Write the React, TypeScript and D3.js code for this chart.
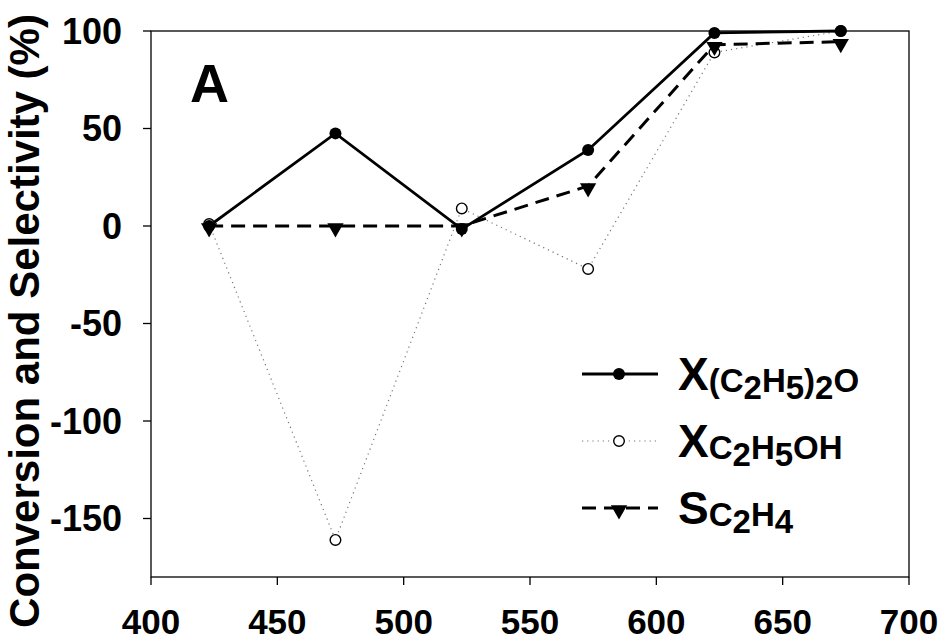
import React from "react";
import * as d3 from "d3";

const temps = [423, 473, 523, 573, 623, 673];
const xEther = [0, 47.5, -1.6, 39, 99, 100];
const xEthanol = [1, -161, 9, -22, 89, 100];
const sEthylene = [0, 0, 0, 20.5, 93, 94.5];
const xTicks = [400, 450, 500, 550, 600, 650, 700];
const yTicks = [-150, -100, -50, 0, 50, 100];

const W = 945, H = 643;
const M = { left: 151, right: 909, top: 31, bottom: 577 };
const FONT = "'Liberation Sans', Arial, sans-serif";

export default function App() {
  const x = d3.scaleLinear().domain([400, 700]).range([M.left, M.right]);
  const y = d3.scaleLinear().domain([-180, 100]).range([M.bottom, M.top]);
  const mk = (vals: number[]) =>
    d3.line<number>().x((_, i) => x(temps[i])).y((v) => y(v))(vals) || "";
  const tri = d3.symbol().type(d3.symbolTriangle).size(115)();

  const legendRows = [
    { yy: 374, kind: "ether" },
    { yy: 441, kind: "ethanol" },
    { yy: 508, kind: "ethylene" },
  ];

  const SUB = 33;
  const subLabel = (kind: string) => {
    if (kind === "ether")
      return (
        <>
          <tspan fontSize={46}>X</tspan>
          <tspan fontSize={SUB} dy={2}>(C</tspan>
          <tspan fontSize={SUB} dy={7}>2</tspan>
          <tspan fontSize={SUB} dy={-7}>H</tspan>
          <tspan fontSize={SUB} dy={7}>5</tspan>
          <tspan fontSize={SUB} dy={-7}>)</tspan>
          <tspan fontSize={SUB} dy={7}>2</tspan>
          <tspan fontSize={SUB} dy={-7}>O</tspan>
        </>
      );
    if (kind === "ethanol")
      return (
        <>
          <tspan fontSize={46}>X</tspan>
          <tspan fontSize={SUB} dy={2}>C</tspan>
          <tspan fontSize={SUB} dy={7}>2</tspan>
          <tspan fontSize={SUB} dy={-7}>H</tspan>
          <tspan fontSize={SUB} dy={7}>5</tspan>
          <tspan fontSize={SUB} dy={-7}>OH</tspan>
        </>
      );
    return (
      <>
        <tspan fontSize={46}>S</tspan>
        <tspan fontSize={SUB} dy={2}>C</tspan>
        <tspan fontSize={SUB} dy={7}>2</tspan>
        <tspan fontSize={SUB} dy={-7}>H</tspan>
        <tspan fontSize={SUB} dy={7}>4</tspan>
      </>
    );
  };

  const marker = (kind: string, cx: number, cy: number, key?: any) => {
    if (kind === "ether")
      return <circle key={key} cx={cx} cy={cy} r={6} fill="#000" />;
    if (kind === "ethanol")
      return (
        <circle key={key} cx={cx} cy={cy} r={5.3} fill="#fff" stroke="#000" strokeWidth={1.4} />
      );
    return (
      <path key={key} d={tri} transform={`translate(${cx},${cy}) rotate(180)`} fill="#000" />
    );
  };

  return (
    <svg width={W} height={H} style={{ position: "absolute", left: 0, top: 0, background: "#fff" }} fontFamily={FONT}>
      <rect x={0} y={0} width={W} height={H} fill="#fff" />
      {/* frame */}
      <rect x={M.left} y={M.top} width={M.right - M.left} height={M.bottom - M.top} fill="none" stroke="#000" strokeWidth={1.3} />
      {/* y ticks */}
      {yTicks.map((t, i) => (
        <line key={"yt" + i} x1={M.left - 8} x2={M.left} y1={y(t)} y2={y(t)} stroke="#000" strokeWidth={1.3} />
      ))}
      {yTicks.map((t) => (
        <text key={"yl" + t} x={122} y={y(t) + 12.5} textAnchor="end" fontSize={36} fontWeight="bold">
          {t}
        </text>
      ))}
      {/* x ticks */}
      {xTicks.map((t) => (
        <line key={"xt" + t} x1={x(t)} x2={x(t)} y1={M.bottom} y2={M.bottom + 8} stroke="#000" strokeWidth={1.3} />
      ))}
      {xTicks.map((t) => (
        <text key={"xl" + t} x={x(t)} y={634} textAnchor="middle" fontSize={35} fontWeight="bold">
          {t}
        </text>
      ))}
      {/* y label */}
      <text transform="translate(39,321) rotate(-90)" textAnchor="middle" fontSize={42} fontWeight="bold">
        Conversion and Selectivity (%)
      </text>
      {/* panel letter */}
      <text x={190} y={102} fontSize={54} fontWeight="bold">A</text>

      {/* lines */}
      <path d={mk(xEthanol)} fill="none" stroke="#777" strokeWidth={1.2} strokeDasharray="1.2,4" />
      <path d={mk(sEthylene)} fill="none" stroke="#000" strokeWidth={3} strokeDasharray="14,8" />
      <path d={mk(xEther)} fill="none" stroke="#000" strokeWidth={2.8} />

      {/* markers */}
      {xEthanol.map((v, i) => marker("ethanol", x(temps[i]), y(v), "e" + i))}
      {sEthylene.map((v, i) => marker("ethylene", x(temps[i]), y(v) + 2, "s" + i))}
      {xEther.map((v, i) => marker("ether", x(temps[i]), y(v), "x" + i))}

      {/* legend */}
      {legendRows.map((r) => (
        <g key={r.kind}>
          {r.kind === "ether" && <line x1={582} x2={658} y1={r.yy} y2={r.yy} stroke="#000" strokeWidth={2.8} />}
          {r.kind === "ethanol" && (
            <line x1={582} x2={658} y1={r.yy} y2={r.yy} stroke="#777" strokeWidth={1.2} strokeDasharray="1.2,4" />
          )}
          {r.kind === "ethylene" && (
            <line x1={582} x2={658} y1={r.yy} y2={r.yy} stroke="#000" strokeWidth={3} strokeDasharray="14,8" />
          )}
          {marker(r.kind, 619, r.yy + (r.kind === "ethylene" ? 2 : 0))}
          <text x={678} y={r.yy + 16} fontWeight="bold">
            {subLabel(r.kind)}
          </text>
        </g>
      ))}
    </svg>
  );
}
